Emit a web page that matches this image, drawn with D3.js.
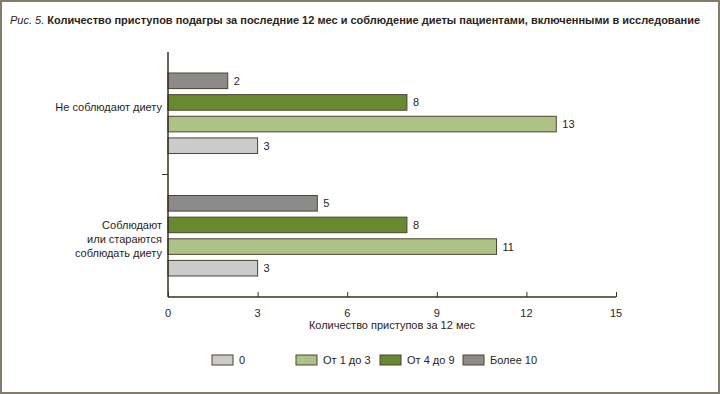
<!DOCTYPE html>
<html>
<head>
<meta charset="utf-8">
<script src="https://cdn.jsdelivr.net/npm/d3@7"></script>
<style>
  body { margin: 0; background: #fff; }
  text { font-family: "Liberation Sans", Arial, sans-serif; fill: #2b2419; }
</style>
</head>
<body>
<svg width="720" height="394"></svg>
<script>
// Data
var groups = ["Не соблюдают диету", "Соблюдают или стараются соблюдать диету"];
var groupLines = [["Не соблюдают диету"], ["Соблюдают", "или стараются", "соблюдать диету"]];
var series = ["Более 10", "От 4 до 9", "От 1 до 3", "0"];
var values = {
  "Более 10": [2, 5],
  "От 4 до 9": [8, 8],
  "От 1 до 3": [13, 11],
  "0": [3, 3]
};
var legendOrder = ["0", "От 1 до 3", "От 4 до 9", "Более 10"];
var xTicks = [0, 3, 6, 9, 12, 15];

var colors = {
  "0": "#cccbcb",
  "От 1 до 3": "#adc386",
  "От 4 до 9": "#678a31",
  "Более 10": "#8d8b89"
};

var svg = d3.select("svg"),
  width = +svg.attr("width"),
  height = +svg.attr("height");

// frame
svg.append("rect")
  .attr("x", 1).attr("y", 1)
  .attr("width", width - 2).attr("height", height - 2)
  .attr("fill", "none").attr("stroke", "#857b6c").attr("stroke-width", 2);

// title
var title = svg.append("text").attr("x", 10).attr("y", 24).style("font-size", "11px");
title.append("tspan").style("font-style", "italic").text("Рис. 5. ");
title.append("tspan").style("font-weight", "bold")
  .text("Количество приступов подагры за последние 12 мес и соблюдение диеты пациентами, включенными в исследование");

var margin = { left: 168, right: 104, top: 52, bottom: 97 };

var x = d3.scaleLinear().domain([0, 15]).range([margin.left, width - margin.right]);
var y0 = d3.scaleBand().domain(groups).range([margin.top, height - margin.bottom]);
var y1 = d3.scaleBand().domain(series).range([21, y0.bandwidth() - 21]).paddingInner(0.28);

var g = svg.append("g");

// bars
groups.forEach(function (grp, gi) {
  var gg = g.append("g").attr("transform", "translate(0," + y0(grp) + ")");
  var rows = series.map(function (s) { return { s: s, v: values[s][gi] }; });
  gg.selectAll("rect")
    .data(rows)
    .enter()
    .append("rect")
    .attr("x", x(0))
    .attr("y", function (d) { return y1(d.s); })
    .attr("width", function (d) { return x(d.v) - x(0); })
    .attr("height", y1.bandwidth())
    .attr("fill", function (d) { return colors[d.s]; })
    .attr("stroke", "#4d4333")
    .attr("stroke-width", 1);
  gg.selectAll("text")
    .data(rows)
    .enter()
    .append("text")
    .attr("x", function (d) { return x(d.v) + 6; })
    .attr("y", function (d) { return y1(d.s) + y1.bandwidth() / 2 + 4; })
    .style("font-size", "11px")
    .text(function (d) { return d.v; });
});

// category labels
groupLines.forEach(function (lines, gi) {
  var cy = y0(groups[gi]) + y0.bandwidth() / 2 + (gi === 0 ? -6 : 3);
  var t = svg.append("text")
    .attr("text-anchor", "end")
    .style("font-size", "11px");
  lines.forEach(function (ln, i) {
    t.append("tspan")
      .attr("x", 162)
      .attr("y", cy + 4 + (i - (lines.length - 1) / 2) * 14)
      .text(ln);
  });
});

// axes
var axisColor = "#3a3022";
svg.append("line")
  .attr("x1", x(0)).attr("x2", x(0))
  .attr("y1", margin.top).attr("y2", height - margin.bottom)
  .attr("stroke", axisColor).attr("stroke-width", 1.5);
svg.append("line")
  .attr("x1", x(0) - 6).attr("x2", x(0))
  .attr("y1", y0(groups[1])).attr("y2", y0(groups[1]))
  .attr("stroke", axisColor).attr("stroke-width", 1);

var xAxis = d3.axisTop(x).tickValues(xTicks).tickSize(5).tickFormat("");
var ax = svg.append("g")
  .attr("transform", "translate(0," + (height - margin.bottom) + ")")
  .call(xAxis);
ax.select(".domain").attr("stroke", axisColor).attr("stroke-width", 1.5)
  .attr("d", "M" + x(0) + ",0H" + x(15));
ax.selectAll(".tick line").attr("stroke", axisColor);

svg.selectAll(".xlab")
  .data(xTicks)
  .enter()
  .append("text")
  .attr("class", "xlab")
  .attr("x", function (d) { return x(d); })
  .attr("y", height - margin.bottom + 20)
  .attr("text-anchor", "middle")
  .style("font-size", "11px")
  .text(function (d) { return d; });

svg.append("text")
  .attr("x", x(7.5))
  .attr("y", height - margin.bottom + 32)
  .attr("text-anchor", "middle")
  .style("font-size", "11px")
  .text("Количество приступов за 12 мес");

// legend
var legendX = [212, 296, 380, 463];
var leg = svg.selectAll(".leg")
  .data(legendOrder)
  .enter()
  .append("g")
  .attr("class", "leg")
  .attr("transform", function (d, i) { return "translate(" + legendX[i] + ",355)"; });
leg.append("rect")
  .attr("width", 21).attr("height", 10)
  .attr("fill", function (d) { return colors[d]; })
  .attr("stroke", "#4d4333").attr("stroke-width", 1);
leg.append("text")
  .attr("x", 27).attr("y", 9)
  .style("font-size", "11px")
  .text(function (d) { return d; });
</script>
</body>
</html>
